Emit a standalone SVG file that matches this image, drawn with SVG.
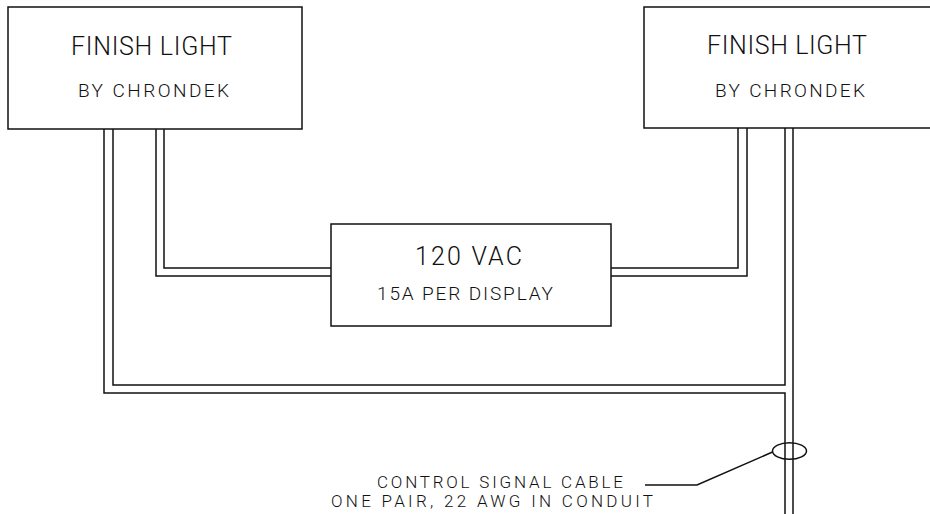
<svg xmlns="http://www.w3.org/2000/svg" width="930" height="514" viewBox="0 0 930 514">
<style>
.box{fill:#fff;stroke:#111;stroke-width:1.5}
.w{fill:none;stroke:#111;stroke-width:1.5}
.t{font-family:Roboto,"Liberation Sans",Arial,sans-serif;font-weight:300;fill:#111}
.big{font-size:25px}
.sm{font-size:19px}
.lab{font-size:17px}
</style>
<rect width="930" height="514" fill="#fff"/>
<g id="connectors">
<polyline class="w" points="104,129 104,393 785,393 785,514"/>
<polyline class="w" points="113,129 113,385 785,385 785,128"/>
<polyline class="w" points="793,128 793,514"/>
<polyline class="w" points="156,129 156,276 331,276"/>
<polyline class="w" points="164,129 164,268 331,268"/>
<polyline class="w" points="611,268 738,268 738,128"/>
<polyline class="w" points="611,276 747,276 747,128"/>
<ellipse class="w" cx="789.5" cy="451" rx="17" ry="8.3"/>
<polyline class="w" points="772.5,452 697,485 645,485"/>
</g>
<g id="light-left">
<rect class="box" x="8" y="7" width="294" height="122"/>
<text class="t big" x="71" y="55" textLength="161" lengthAdjust="spacing">FINISH LIGHT</text>
<text class="t sm" x="78" y="97" textLength="151" lengthAdjust="spacing">BY CHRONDEK</text>
</g>
<g id="light-right">
<rect class="box" x="644" y="7" width="300" height="121"/>
<text class="t big" x="707" y="54" textLength="160" lengthAdjust="spacing">FINISH LIGHT</text>
<text class="t sm" x="715" y="97" textLength="150" lengthAdjust="spacing">BY CHRONDEK</text>
</g>
<g id="power">
<rect class="box" x="331" y="224" width="280" height="102"/>
<text class="t big" x="415" y="265" textLength="107" lengthAdjust="spacing">120 VAC</text>
<text class="t sm" x="377" y="300" textLength="176" lengthAdjust="spacing">15A PER DISPLAY</text>
</g>
<g id="cable-label">
<text class="t lab" x="377" y="488" textLength="246" lengthAdjust="spacing">CONTROL SIGNAL CABLE</text>
<text class="t lab" x="331" y="507" textLength="322" lengthAdjust="spacing">ONE PAIR, 22 AWG IN CONDUIT</text>
</g>
</svg>
